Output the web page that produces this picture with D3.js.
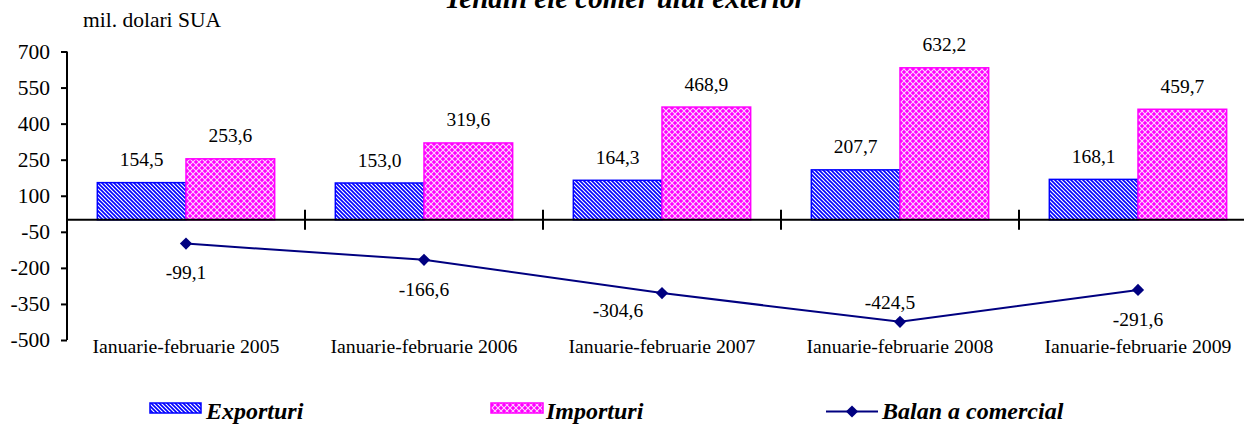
<!DOCTYPE html>
<html>
<head>
<meta charset="utf-8">
<script src="https://cdn.jsdelivr.net/npm/d3@7"></script>
<style>
  body { margin: 0; background: #fff; }
  svg, svg text { font-family: "Liberation Serif", Tinos, "Times New Roman", Times, "DejaVu Serif", serif; fill: #000; }
</style>
</head>
<body>
<div id="chart"></div>
<script>
// data
var categories = ["Ianuarie-februarie 2005", "Ianuarie-februarie 2006", "Ianuarie-februarie 2007",
                  "Ianuarie-februarie 2008", "Ianuarie-februarie 2009"];
var exporturi = [154.5, 153.0, 164.3, 207.7, 168.1];
var importuri = [253.6, 319.6, 468.9, 632.2, 459.7];
var balanta = [-99.1, -166.6, -304.6, -424.5, -291.6];
var yTicks = [700, 550, 400, 250, 100, -50, -200, -350, -500];

// where the balance labels sit relative to their marker (dx, dy of label centre)
var balLabelPos = [[0, 29], [0, 30], [-44, 17], [-10, -19], [0, 30]];

var width = 1244, height = 424;
var serif = '"Liberation Serif", Tinos, "Times New Roman", Times, "DejaVu Serif", serif';
var loc = d3.formatLocale({decimal: ",", thousands: ".", grouping: [3], currency: ["", ""], minus: "-"});
var fmt = loc.format(".1f");
var fmtInt = loc.format("d");

var svg = d3.select("#chart").append("svg")
    .attr("width", width)
    .attr("height", height)
    .attr("font-family", serif);

var defs = svg.append("defs");

// diagonal hatch for exports
var pe = defs.append("pattern")
    .attr("id", "hatchExp")
    .attr("patternUnits", "userSpaceOnUse")
    .attr("width", 4).attr("height", 4);
pe.append("rect").attr("width", 4).attr("height", 4).attr("fill", "#fff");
pe.append("path")
    .attr("d", "M-1,-1 L5,5 M-1,3 L1,5 M3,-1 L5,1")
    .attr("stroke", "#0000ff").attr("stroke-width", 1.6);

// lattice for imports
var pi = defs.append("pattern")
    .attr("id", "latticeImp")
    .attr("patternUnits", "userSpaceOnUse")
    .attr("width", 6).attr("height", 6);
pi.append("rect").attr("width", 6).attr("height", 6).attr("fill", "#ff00ff");
pi.append("path")
    .attr("d", "M0,0 L6,6 M6,0 L0,6")
    .attr("stroke", "#ffd6ff").attr("stroke-width", 1.1);

var x = d3.scaleBand().domain(categories).range([67, 1257]).padding(0);
var inner = d3.scaleBand().domain(["exp", "imp"]).range([0, x.bandwidth()])
    .paddingInner(0).paddingOuter(0.342);
var y = d3.scaleLinear().domain([-500, 700]).range([340, 51.5]);

function txt(sel, size) {
    return sel.style("font-family", serif).style("font-size", size + "px");
}

// title (cut at top, as in the source)
txt(svg.append("text"), 29)
    .attr("x", 625).attr("y", 8)
    .attr("text-anchor", "middle")
    .style("font-weight", "bold").style("font-style", "italic")
    .text("Tendin ele comer ului exterior");

txt(svg.append("text"), 21.5)
    .attr("x", 83).attr("y", 27)
    .text("mil. dolari SUA");

// y axis
var yAxis = svg.append("g")
    .attr("transform", "translate(67,0)")
    .call(d3.axisLeft(y).tickValues(yTicks).tickSize(6).tickPadding(11).tickFormat(fmtInt));
yAxis.attr("font-family", serif);
yAxis.select(".domain").attr("d", "M0," + y(700) + "V" + y(-500)).attr("stroke-width", 2);
yAxis.selectAll(".tick line").attr("stroke-width", 2);
txt(yAxis.selectAll(".tick text"), 21.5);

// bars
var groups = svg.selectAll(".grp")
    .data(categories)
    .enter().append("g")
    .attr("class", "grp")
    .attr("transform", function(d) { return "translate(" + x(d) + ",0)"; });

groups.append("rect")
    .attr("x", inner("exp"))
    .attr("width", inner.bandwidth())
    .attr("y", function(d, i) { return y(exporturi[i]); })
    .attr("height", function(d, i) { return y(0) - y(exporturi[i]); })
    .attr("fill", "url(#hatchExp)")
    .attr("stroke", "#0000ff").attr("stroke-width", 1.5);

groups.append("rect")
    .attr("x", inner("imp"))
    .attr("width", inner.bandwidth())
    .attr("y", function(d, i) { return y(importuri[i]); })
    .attr("height", function(d, i) { return y(0) - y(importuri[i]); })
    .attr("fill", "url(#latticeImp)")
    .attr("stroke", "#ff00ff").attr("stroke-width", 1.5);

txt(groups.append("text"), 19.5)
    .attr("x", inner("exp") + inner.bandwidth() / 2)
    .attr("y", function(d, i) { return y(exporturi[i]) - 16.5; })
    .attr("text-anchor", "middle")
    .text(function(d, i) { return fmt(exporturi[i]); });

txt(groups.append("text"), 19.5)
    .attr("x", inner("imp") + inner.bandwidth() / 2)
    .attr("y", function(d, i) { return y(importuri[i]) - 16.5; })
    .attr("text-anchor", "middle")
    .text(function(d, i) { return fmt(importuri[i]); });

// x axis at zero with crossing ticks between categories
svg.append("line")
    .attr("x1", 67).attr("x2", 1257)
    .attr("y1", y(0)).attr("y2", y(0))
    .attr("stroke", "#000").attr("stroke-width", 2);
svg.selectAll(".xtick")
    .data(categories.slice(1))
    .enter().append("line")
    .attr("x1", function(d) { return x(d); })
    .attr("x2", function(d) { return x(d); })
    .attr("y1", y(0) - 10).attr("y2", y(0) + 10)
    .attr("stroke", "#000").attr("stroke-width", 2);

txt(svg.selectAll(".xlab")
    .data(categories)
    .enter().append("text"), 19.75)
    .attr("x", function(d) { return x(d) + x.bandwidth() / 2; })
    .attr("y", 352.5)
    .attr("text-anchor", "middle")
    .text(function(d) { return d; });

// balance line
var cx = function(i) { return x(categories[i]) + x.bandwidth() / 2; };
var line = d3.line()
    .x(function(d, i) { return cx(i); })
    .y(function(d) { return y(d); });

svg.append("path")
    .datum(balanta)
    .attr("d", line)
    .attr("fill", "none")
    .attr("stroke", "#000080").attr("stroke-width", 2);

var diamond = d3.symbol().type(d3.symbolDiamond2).size(95);
svg.selectAll(".mk")
    .data(balanta)
    .enter().append("path")
    .attr("d", diamond)
    .attr("transform", function(d, i) { return "translate(" + cx(i) + "," + y(d) + ")"; })
    .attr("fill", "#000080");

txt(svg.selectAll(".bl")
    .data(balanta)
    .enter().append("text"), 19.5)
    .attr("x", function(d, i) { return cx(i) + balLabelPos[i][0]; })
    .attr("y", function(d, i) { return y(d) + balLabelPos[i][1] + 6.5; })
    .attr("text-anchor", "middle")
    .text(function(d) { return fmt(d); });

// legend
var lg = svg.append("g").attr("class", "legend");
lg.append("rect").attr("x", 150).attr("y", 403).attr("width", 51).attr("height", 10)
    .attr("fill", "url(#hatchExp)").attr("stroke", "#0000ff").attr("stroke-width", 1.5);
txt(lg.append("text"), 24).attr("x", 206).attr("y", 419)
    .style("font-weight", "bold").style("font-style", "italic")
    .text("Exporturi");

lg.append("rect").attr("x", 491).attr("y", 403).attr("width", 52).attr("height", 10)
    .attr("fill", "url(#latticeImp)").attr("stroke", "#ff00ff").attr("stroke-width", 1.5);
txt(lg.append("text"), 24).attr("x", 546).attr("y", 419)
    .style("font-weight", "bold").style("font-style", "italic")
    .text("Importuri");

lg.append("line").attr("x1", 826).attr("x2", 878).attr("y1", 411.5).attr("y2", 411.5)
    .attr("stroke", "#000080").attr("stroke-width", 2);
lg.append("path").attr("d", diamond).attr("transform", "translate(852,411.5)").attr("fill", "#000080");
txt(lg.append("text"), 24).attr("x", 882).attr("y", 419)
    .style("font-weight", "bold").style("font-style", "italic")
    .text("Balan a comercial");
</script>
</body>
</html>
